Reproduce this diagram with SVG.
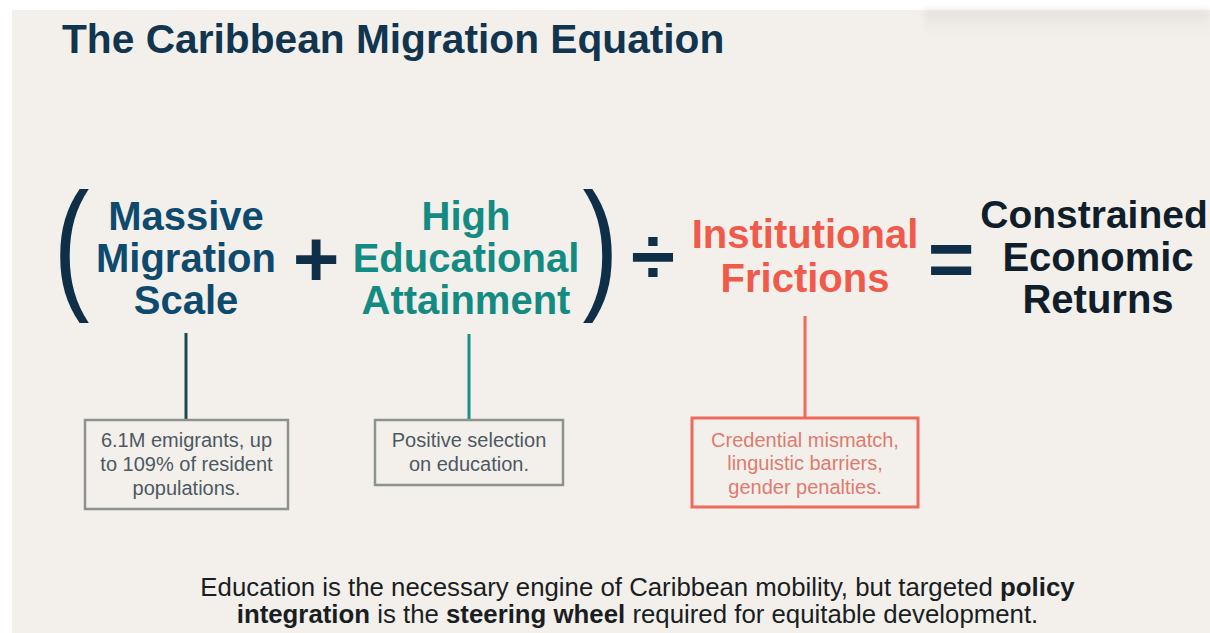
<svg xmlns="http://www.w3.org/2000/svg" width="1210" height="633" viewBox="0 0 1210 633">
  <defs>
    <linearGradient id="topShade" x1="0" y1="0" x2="0" y2="1">
      <stop offset="0" stop-color="#e4e0dc"/>
      <stop offset="1" stop-color="#f3f0ec" stop-opacity="0"/>
    </linearGradient>
    <filter id="soft" x="-10%" y="-50%" width="120%" height="200%">
      <feGaussianBlur stdDeviation="3"/>
    </filter>
    <style>
      .sans { font-family: "Liberation Sans", Arial, sans-serif; }
      .title { font-size: 40.7px; font-weight: 700; fill: #12354f; }
      .term { font-size: 40px; font-weight: 700; text-anchor: middle; }
      .scale { fill: #0e4a6e; }
      .edu { fill: #138a82; }
      .fric { fill: #f05a4b; }
      .result { fill: #101e2b; }
      .op { font-size: 80px; font-weight: 700; text-anchor: middle; fill: #0f2e48; }
      .paren { font-size: 142px; font-weight: 400; fill: #0f2e48; }
      .note { font-size: 20px; text-anchor: middle; }
      .note-gray { fill: #4d5862; }
      .note-red { fill: #e07a6e; }
      .box-gray { fill: none; stroke: #8d918f; stroke-width: 2.5; }
      .box-red { fill: none; stroke: #ee6a5b; stroke-width: 3; }
      .link { stroke-width: 3; fill: none; }
      .caption { font-size: 25.8px; text-anchor: middle; fill: #1a1e22; }
      .b { font-weight: 700; }
    </style>
  </defs>

  <!-- page and panel -->
  <rect x="0" y="0" width="1210" height="633" fill="#ffffff"/>
  <rect x="12" y="10" width="1198" height="623" fill="#f3f0ec"/>
  <rect x="924" y="10" width="286" height="34" fill="url(#topShade)" filter="url(#soft)"/>

  <!-- heading -->
  <text class="sans title" x="62" y="53">The Caribbean Migration Equation</text>

  <!-- equation operators and brackets -->
  <g id="operators" class="sans">
    <text class="paren" transform="translate(53.5,293) scale(0.76,1)" x="0" y="0">(</text>
    <text class="op" x="316" y="286">+</text>
    <text class="paren" transform="translate(582.5,293) scale(0.76,1)" x="0" y="0">)</text>
    <text class="op" x="653" y="284">÷</text>
    <text class="op" x="951" y="286">=</text>
  </g>

  <!-- connectors from terms to their notes -->
  <g id="connectors">
    <line class="link" x1="186" y1="333" x2="186" y2="420" stroke="#1b4655"/>
    <line class="link" x1="469" y1="334" x2="469" y2="420" stroke="#1a9088"/>
    <line class="link" x1="805" y1="316" x2="805" y2="418" stroke="#ef6a5c"/>
  </g>

  <!-- term: migration scale -->
  <g id="term-scale" class="sans term scale">
    <text x="186" y="230">Massive</text>
    <text x="186" y="272">Migration</text>
    <text x="186" y="314">Scale</text>
  </g>

  <!-- term: educational attainment -->
  <g id="term-education" class="sans term edu">
    <text x="466" y="230">High</text>
    <text x="466" y="272">Educational</text>
    <text x="466" y="314">Attainment</text>
  </g>

  <!-- term: institutional frictions -->
  <g id="term-frictions" class="sans term fric">
    <text x="805" y="248">Institutional</text>
    <text x="805" y="292">Frictions</text>
  </g>

  <!-- result -->
  <g id="term-result" class="sans term result">
    <text x="1094" y="228" font-size="39">Constrained</text>
    <text x="1098" y="271">Economic</text>
    <text x="1098" y="313">Returns</text>
  </g>

  <!-- notes -->
  <g id="note-scale" class="sans">
    <rect class="box-gray" x="85" y="420" width="203" height="89"/>
    <text class="note note-gray" x="186.5" y="447">6.1M emigrants, up</text>
    <text class="note note-gray" x="186.5" y="471">to 109% of resident</text>
    <text class="note note-gray" x="186.5" y="495">populations.</text>
  </g>

  <g id="note-education" class="sans">
    <rect class="box-gray" x="375" y="420" width="188" height="65"/>
    <text class="note note-gray" x="469" y="447">Positive selection</text>
    <text class="note note-gray" x="469" y="471">on education.</text>
  </g>

  <g id="note-frictions" class="sans">
    <rect class="box-red" x="692" y="418" width="226" height="89"/>
    <text class="note note-red" x="805" y="447">Credential mismatch,</text>
    <text class="note note-red" x="805" y="470">linguistic barriers,</text>
    <text class="note note-red" x="805" y="494">gender penalties.</text>
  </g>

  <!-- closing statement -->
  <g id="caption" class="sans caption">
    <text x="637.5" y="596">Education is the necessary engine of Caribbean mobility, but targeted <tspan class="b">policy</tspan></text>
    <text x="637.5" y="623"><tspan class="b">integration</tspan> is the <tspan class="b">steering wheel</tspan> required for equitable development.</text>
  </g>
</svg>
